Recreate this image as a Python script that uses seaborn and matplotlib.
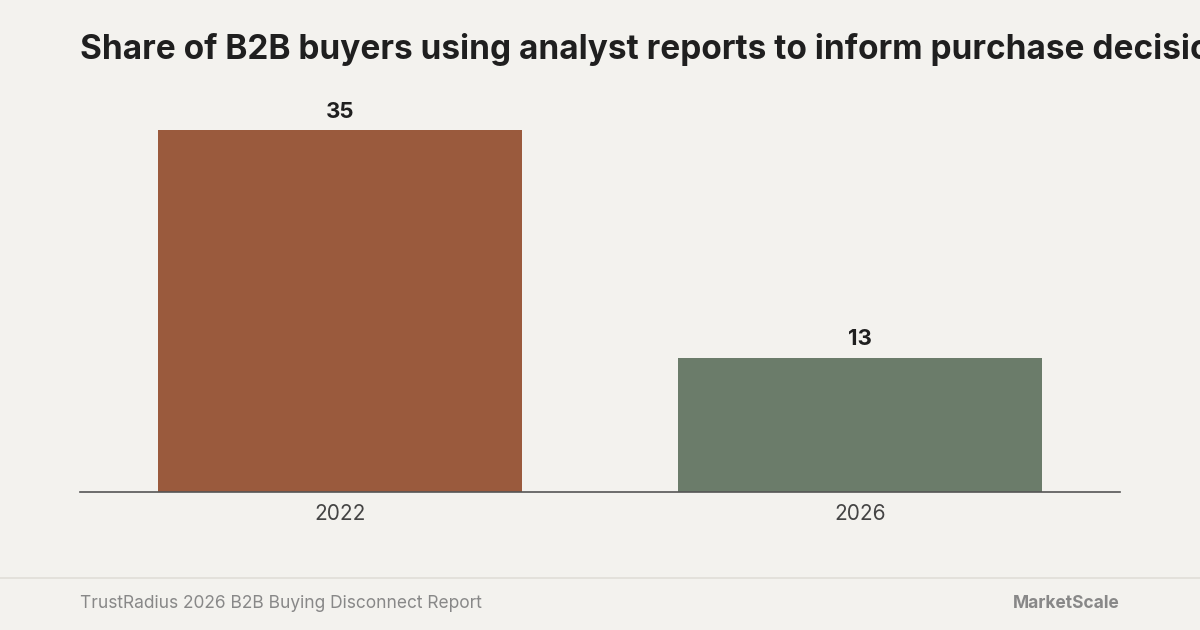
import matplotlib
matplotlib.use("Agg")
import matplotlib.pyplot as plt
import seaborn as sns
import pandas as pd

years = ["2022", "2026"]
shares = [35, 13]
bar_colors = ["#9a5a3d", "#6b7c6a"]

bg = "#f3f2ee"
sns.set_style("white")
plt.rcParams["font.family"] = ["Inter", "DejaVu Sans"]

df = pd.DataFrame({"year": years, "share": shares})

fig = plt.figure(figsize=(12, 6.3), dpi=100, facecolor=bg)
ax = fig.add_axes([80 / 1200, 1 - 492 / 630, 1040 / 1200, 413.6 / 630])
ax.set_facecolor(bg)
sns.barplot(data=df, x="year", y="share", hue="year", palette=bar_colors,
            width=0.7, legend=False, ax=ax, saturation=1, edgecolor="none", linewidth=0)
ax.set_xlim(-0.5, 1.5)
ax.set_ylim(0, 40)
ax.set_yticks([])
ax.set_xlabel("")
ax.set_ylabel("")
for s in ["top", "right", "left"]:
    ax.spines[s].set_visible(False)
ax.spines["bottom"].set_color("#555555")
ax.spines["bottom"].set_linewidth(1.2)
ax.spines["bottom"].set_zorder(5)
ax.tick_params(axis="x", length=0, pad=9, labelsize=15, labelcolor="#444444")
for c in ax.containers:
    ax.bar_label(c, padding=6, fontsize=16, fontweight="bold", color="#1f1f1f")

fig.text(80 / 1200, 1 - 49 / 630, "Share of B2B buyers using analyst reports to inform purchase decisions",
         fontsize=24, fontweight="bold", color="#1f1f1f", va="center", ha="left")
fig.add_artist(plt.Line2D([0, 1], [1 - 578 / 630] * 2, color="#e0ded8", lw=1.2))
fig.text(80 / 1200, 1 - 603 / 630, "TrustRadius 2026 B2B Buying Disconnect Report",
         fontsize=12.5, color="#888888", va="center", ha="left")
fig.text(1120 / 1200, 1 - 604 / 630, "MarketScale", fontsize=12.5, color="#888888",
         va="center", ha="right", fontweight="bold")

fig.savefig("out.png", dpi=100, facecolor=bg)
